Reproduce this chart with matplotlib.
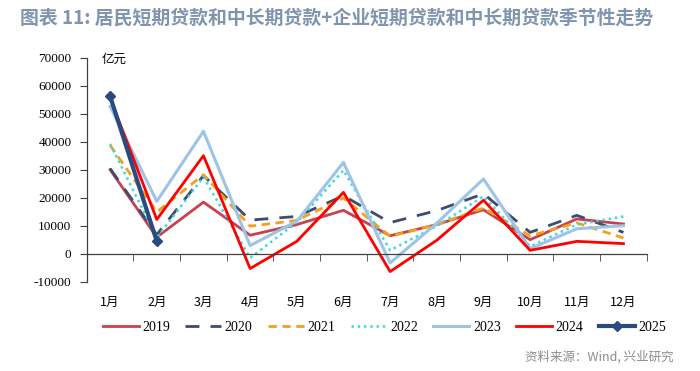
import matplotlib
matplotlib.use('Agg')
import matplotlib.pyplot as plt
from matplotlib.ticker import FixedLocator, NullFormatter

plt.rcParams['font.family'] = ['Noto Sans CJK SC', 'DejaVu Sans']

months = ['1月', '2月', '3月', '4月', '5月', '6月', '7月', '8月', '9月', '10月', '11月', '12月']

y2019 = [30100, 6000, 18500, 6700, 10500, 15600, 6500, 10500, 15800, 5100, 12500, 10700]
y2020 = [30500, 6900, 28000, 12100, 13400, 20800, 11200, 15500, 21500, 7700, 13800, 7700]
y2021 = [38800, 15000, 28300, 9900, 12000, 20000, 6300, 10500, 16400, 6500, 11100, 5700]
y2022 = [39300, 5800, 27500, -1400, 11300, 29900, 1300, 10000, 20600, 2700, 10500, 13400]
y2023 = [52700, 18800, 43800, 3000, 11700, 32700, -3200, 11000, 26800, 1900, 9000, 10100]
y2024 = [55700, 12300, 35100, -5200, 4500, 22000, -6300, 4900, 19200, 1300, 4500, 3700]
y2025 = [56300, 4500]

series = [
    ('2019', y2019, dict(color='#C8414F', lw=2.0, ls='-')),
    ('2020', y2020, dict(color='#3E4C6D', lw=2.0, ls=(0, (5, 4)))),
    ('2021', y2021, dict(color='#F5A01A', lw=2.0, ls=(0, (3, 2)))),
    ('2022', y2022, dict(color='#3ED8DC', lw=1.8, ls=(0, (1, 1.5)))),
    ('2023', y2023, dict(color='#9DC3E6', lw=2.2, ls='-')),
    ('2024', y2024, dict(color='#FF0000', lw=2.0, ls='-')),
    ('2025', y2025, dict(color='#2B4A80', lw=3.0, ls='-', marker='D', ms=5)),
]

fig = plt.figure(figsize=(7, 3.71), dpi=100)
ax = fig.add_axes([0.124, 0.24, 0.8, 0.6037])

x = list(range(len(months)))
for name, vals, style in series:
    ax.plot(x[:len(vals)], vals, label=name, **style)

ax.set_xlim(-0.5, 11.5)
ax.set_ylim(-10000, 70000)
ax.set_yticks(range(-10000, 70001, 10000))
ax.set_yticklabels([str(v) for v in range(-10000, 70001, 10000)],
                   family='Liberation Serif', fontsize=9.5)

ax.spines['top'].set_visible(False)
ax.spines['right'].set_visible(False)
ax.spines['bottom'].set_position(('data', 0))
for s in ('left', 'bottom'):
    ax.spines[s].set_color('#404040')
    ax.spines[s].set_linewidth(0.9)

ax.set_xticks(x)
ax.set_xticklabels(months, fontsize=9, family=['Noto Sans CJK SC'])
ax.tick_params(axis='x', which='major', length=0, pad=30)
ax.xaxis.set_minor_locator(FixedLocator([i - 0.5 for i in range(13)]))
ax.xaxis.set_minor_formatter(NullFormatter())
ax.tick_params(axis='x', which='minor', length=5, direction='out', color='#404040')
ax.tick_params(axis='y', length=5, direction='out', color='#404040', pad=6)

ax.text(0.027, 0.995, '亿元', transform=ax.transAxes, fontsize=9,
        style='italic', va='center', ha='left')

leg = fig.legend(loc='center', bbox_to_anchor=(0.549, 0.118), ncol=7, frameon=False,
                 handlelength=2.6, handletextpad=0.25, columnspacing=1.1,
                 prop={'family': 'Liberation Serif', 'size': 10})

fig.text(0.028, 0.952, '图表 11: 居民短期贷款和中长期贷款+企业短期贷款和中长期贷款季节性走势',
         fontsize=13.6, fontweight='bold', color='#7F94AE', va='center', ha='left')
fig.text(0.962, 0.038, '资料来源：Wind, 兴业研究', fontsize=9, color='#8C8C8C',
         va='center', ha='right')

fig.savefig('out.png', dpi=100)
